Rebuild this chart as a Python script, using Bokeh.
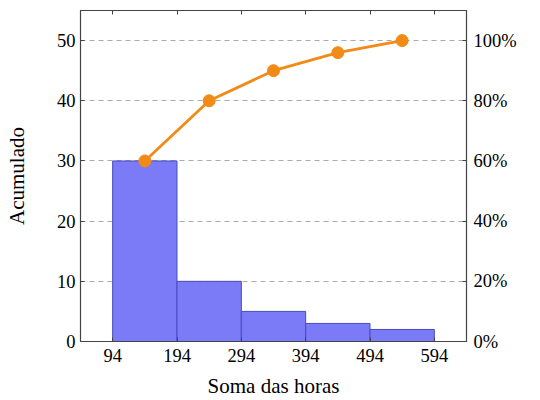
from bokeh.plotting import figure
from bokeh.models import Range1d, LinearAxis, FixedTicker, PrintfTickFormatter, CustomJSTickFormatter
from bokeh.embed import file_html
from bokeh.resources import INLINE

# dados do histograma (Pareto)
bin_left = [94, 194, 294, 394, 494]
bin_right = [194, 294, 394, 494, 594]
contagem = [30, 10, 5, 3, 2]
ponto_x = [144, 244, 344, 444, 544]
acumulado = [30, 40, 45, 48, 50]

x_ticks = [94, 194, 294, 394, 494, 594]
y_ticks = [0, 10, 20, 30, 40, 50]
pct_ticks = [0, 20, 40, 60, 80, 100]

fonte = "Liberation Serif"
cor_eixo = "#444444"
tam_ticks = "18.5px"
tam_rotulo = "21px"

p = figure(width=540, height=400, output_backend="svg", toolbar_location=None,
           x_range=Range1d(44, 644), y_range=Range1d(0, 55),
           min_border_left=80, min_border_right=74, min_border_top=10, min_border_bottom=59)

p.extra_y_ranges = {"pct": Range1d(0, 110)}

# grade tracejada só no eixo y
p.xgrid.grid_line_color = None
p.ygrid.grid_line_color = "#aaaaaa"
p.ygrid.grid_line_dash = "5 4"
p.ygrid.grid_line_width = 1.2
p.ygrid.ticker = FixedTicker(ticks=y_ticks)

p.outline_line_color = cor_eixo
p.outline_line_width = 1.2

p.quad(left=bin_left, right=bin_right, bottom=0, top=contagem,
       fill_color="#7b7bf8", fill_alpha=1.0, line_color="#4a4ac0", line_width=1)

p.line(ponto_x, acumulado, line_color="#f28a17", line_width=2.8)
p.scatter(ponto_x, acumulado, size=12, fill_color="#f28a17", line_color="#f28a17")

# eixo x
p.xaxis.ticker = FixedTicker(ticks=x_ticks)
p.xaxis.axis_label = "Soma das horas"
p.xaxis.axis_label_standoff = 9
p.xaxis.major_label_standoff = 7

# eixo y esquerdo
p.yaxis.ticker = FixedTicker(ticks=y_ticks)
p.yaxis.axis_label = "Acumulado"
p.yaxis.axis_label_standoff = 25
p.yaxis.major_label_standoff = 5

for eixo in [p.xaxis[0], p.yaxis[0]]:
    eixo.axis_line_color = cor_eixo
    eixo.major_tick_line_color = cor_eixo
    eixo.major_tick_in = 4
    eixo.major_tick_out = 0
    eixo.minor_tick_line_color = None
    eixo.major_label_text_font = fonte
    eixo.major_label_text_font_size = tam_ticks
    eixo.major_label_text_color = "black"
    eixo.axis_label_text_font = fonte
    eixo.axis_label_text_font_size = tam_rotulo
    eixo.axis_label_text_font_style = "normal"
    eixo.axis_label_text_color = "black"

# eixo direito em percentagem
eixo_pct = LinearAxis(y_range_name="pct", ticker=FixedTicker(ticks=pct_ticks),
                      formatter=PrintfTickFormatter(format="%d%%"))
eixo_pct.major_label_text_font = fonte
eixo_pct.major_label_text_font_size = tam_ticks
eixo_pct.major_label_text_color = "black"
eixo_pct.major_label_standoff = 7
eixo_pct.axis_line_color = cor_eixo
eixo_pct.major_tick_line_color = cor_eixo
eixo_pct.major_tick_in = 4
eixo_pct.major_tick_out = 0
eixo_pct.minor_tick_line_color = None
p.add_layout(eixo_pct, "right")

# marcas no topo, sem rótulos
eixo_topo = LinearAxis(ticker=FixedTicker(ticks=x_ticks),
                       formatter=CustomJSTickFormatter(code="return ''"))
eixo_topo.major_label_standoff = 0
eixo_topo.axis_line_color = cor_eixo
eixo_topo.major_tick_line_color = cor_eixo
eixo_topo.major_tick_in = 4
eixo_topo.major_tick_out = 0
eixo_topo.minor_tick_line_color = None
p.add_layout(eixo_topo, "above")

open("out.html", "w").write(file_html(p, INLINE))
